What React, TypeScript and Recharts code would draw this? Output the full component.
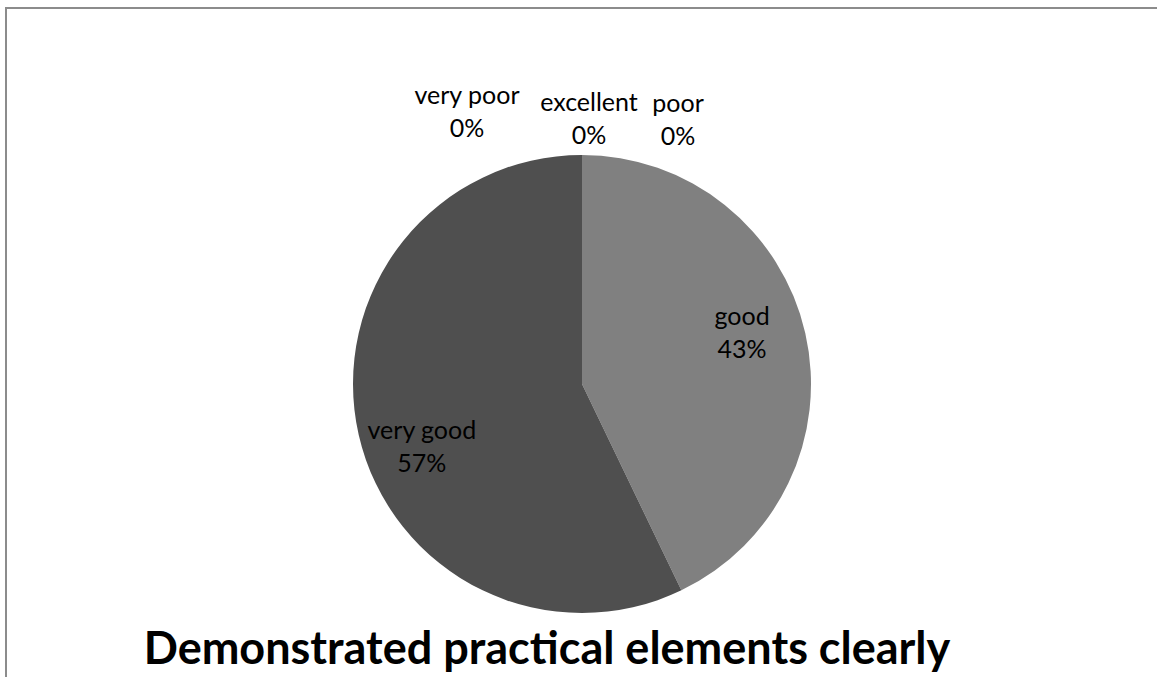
import React from 'react';
import { PieChart, Pie, Cell } from 'recharts';

const categories = ['excellent', 'good', 'very good', 'poor', 'very poor'];
const counts = [0, 3, 4, 0, 0];
const percentLabels = ['0%', '43%', '57%', '0%', '0%'];
const sliceColors = ['#a6a6a6', '#808080', '#4f4f4f', '#d9d9d9', '#262626'];
const title = 'Demonstrated practical elements clearly';

const data = categories.map((name, i) => ({ name, value: counts[i], pct: percentLabels[i] }));

const FONT = 'Lato, "Open Sans", sans-serif';
const RAD = Math.PI / 180;
// horizontal spread for zero-value labels that would otherwise overlap at 12 o'clock
const zeroShift: Record<string, [number, number]> = {
  excellent: [7, -38],
  poor: [96, -37],
  'very poor': [-115, -45],
};

const renderLabel = (props: any) => {
  const { cx, cy, midAngle, outerRadius, index } = props;
  const d = data[index];
  let x: number;
  let y: number;
  if (d.value === 0) {
    const s = zeroShift[d.name] || [0, -38];
    x = cx + s[0];
    y = cy - outerRadius + s[1];
  } else {
    const a = (midAngle + 6.7) * RAD;
    const r = outerRadius * 0.742;
    x = cx + r * Math.cos(a);
    y = cy - r * Math.sin(a) + 4;
  }
  return (
    <text x={x} y={y} textAnchor="middle" fill="#000" fontFamily={FONT} fontSize={25}>
      <tspan x={x} dy={-6}>{d.name}</tspan>
      <tspan x={x} dy={33}>{d.pct}</tspan>
    </text>
  );
};

export default function App() {
  return (
    <div style={{ position: 'absolute', left: 0, top: 0, width: 1157, height: 677, overflow: 'hidden', background: '#fff' }}>
      <div style={{ position: 'absolute', left: 5, top: 7, width: 1200, height: 800, borderLeft: '2px solid #8c8c8c', borderTop: '2px solid #8c8c8c' }} />
      <PieChart width={1157} height={677} margin={{ top: 0, right: 0, bottom: 0, left: 0 }} style={{ position: 'absolute', left: 0, top: 0 }}>
        <Pie
          data={data}
          dataKey="value"
          nameKey="name"
          cx={582}
          cy={384}
          outerRadius={229}
          startAngle={90}
          endAngle={-270}
          stroke="none"
          label={renderLabel}
          labelLine={false}
          isAnimationActive={false}
        >
          {data.map((d, i) => (
            <Cell key={d.name} fill={sliceColors[i]} />
          ))}
        </Pie>
      </PieChart>
      <div style={{ position: 'absolute', left: 0, width: 1094, top: 620, textAlign: 'center', fontFamily: FONT, fontWeight: 700, fontSize: 45, lineHeight: '54px', color: '#000' }}>
        {title}
      </div>
    </div>
  );
}
